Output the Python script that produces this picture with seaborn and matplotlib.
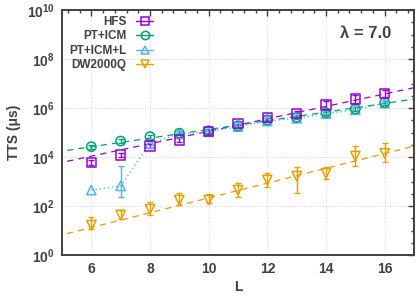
import numpy as np
import pandas as pd
import matplotlib
matplotlib.use("Agg")
import matplotlib.pyplot as plt
import seaborn as sns
from matplotlib.lines import Line2D
from matplotlib.ticker import FixedLocator, FixedFormatter, NullFormatter

# ---------------- data (log10 of TTS in microseconds) ----------------
L = [6, 7, 8, 9, 10, 11, 12, 13, 14, 15, 16]

hfs_log = [3.77, 4.08, 4.45, 4.69, 5.03, 5.37, 5.62, 5.78, 6.12, 6.37, 6.60]
hfs_err = [0.10, 0.10, 0.10, 0.08, 0.08, 0.08, 0.10, 0.10, 0.15, 0.15, 0.15]

pticm_log = [4.42, 4.65, 4.83, 4.97, 5.07, 5.27, 5.51, 5.62, 5.81, 5.96, 6.22]
pticm_err = [0.08, 0.08, 0.08, 0.08, 0.08, 0.08, 0.08, 0.08, 0.08, 0.08, 0.08]

pticml_log = [2.65, 2.82, 4.55, 4.95, 5.03, 5.24, 5.47, 5.58, 5.77, 5.93, 6.20]
pticml_lo = [2.65, 2.36, 4.55, 4.95, 5.03, 5.24, 5.47, 5.58, 5.77, 5.93, 6.20]
pticml_hi = [2.65, 3.62, 4.55, 4.95, 5.03, 5.24, 5.47, 5.58, 5.77, 5.93, 6.20]

dw_log = [1.22, 1.63, 1.87, 2.24, 2.24, 2.65, 3.06, 3.22, 3.33, 4.04, 4.15]
dw_lo = [1.05, 1.47, 1.63, 2.04, 2.11, 2.38, 2.76, 2.54, 3.09, 3.63, 3.81]
dw_hi = [1.54, 1.84, 2.18, 2.52, 2.49, 2.95, 3.36, 3.60, 3.58, 4.45, 4.56]

# exponential fits: log10(TTS) = intercept + slope * L
fit_names = ["HFS", "PT+ICM", "DW2000Q"]
fit_intercept = [3.78 - 0.254 * 5, 4.24 - 0.177 * 5, 0.82 - 0.302 * 5]
fit_slope = [0.254, 0.177, 0.302]

labels = ["HFS", "PT+ICM", "PT+ICM+L", "DW2000Q"]
colors = ["#9400D3", "#009E73", "#56B4E9", "#E69F00"]
markers = ["s", "o", "^", "v"]
lambda_text = "λ = 7.0"

# ---------------- style ----------------
sns.set_theme(style="white")
plt.rcParams["font.family"] = ["Liberation Sans", "DejaVu Sans"]
plt.rcParams["font.weight"] = "bold"
plt.rcParams["mathtext.fontset"] = "custom"
plt.rcParams["mathtext.rm"] = "Liberation Sans:bold"
plt.rcParams["mathtext.it"] = "Liberation Sans:bold"
plt.rcParams["mathtext.bf"] = "Liberation Sans:bold"
txt = "#404040"

fig = plt.figure(figsize=(4.16, 2.97), dpi=100)
ax = fig.add_axes([62 / 416, 1 - 255 / 297, (414 - 62) / 416, (255 - 10) / 297])

# fit lines
xfit = np.array([4.8, 17.2])
fit_colors = [colors[0], colors[1], colors[3]]
for name, a, b, c in zip(fit_names, fit_intercept, fit_slope, fit_colors):
    dfit = pd.DataFrame({"L": xfit, "TTS": 10 ** (a + b * xfit)})
    sns.lineplot(data=dfit, x="L", y="TTS", ax=ax, color=c, lw=0.9,
                 legend=False, zorder=2)
    ax.lines[-1].set_dashes((5, 4))

# dotted line for PT+ICM+L
dl = pd.DataFrame({"L": L, "TTS": 10 ** np.array(pticml_log)})
sns.lineplot(data=dl, x="L", y="TTS", ax=ax, color=colors[2], lw=1.0,
             legend=False, zorder=2)
ax.lines[-1].set_linestyle((0, (1, 2)))

def draw(logv, lo, hi, color, marker, ms):
    logv = np.array(logv); lo = np.array(lo); hi = np.array(hi)
    y = 10 ** logv
    m = (hi - lo) > 1e-6
    x = np.array(L)
    if m.any():
        ax.errorbar(x[m], y[m], yerr=[y[m] - 10 ** lo[m], 10 ** hi[m] - y[m]],
                    fmt="none", ecolor=color, elinewidth=1.0, capsize=2,
                    capthick=1.0, zorder=3)
    sns.scatterplot(x=L, y=y, ax=ax, marker=marker, s=ms,
                    facecolors="none", edgecolor=color, linewidth=1.1,
                    zorder=4, legend=False)

hl = np.array(hfs_log); he = np.array(hfs_err)
pl = np.array(pticm_log); pe = np.array(pticm_err)
draw(pticml_log, pticml_lo, pticml_hi, colors[2], "^", 45)
draw(dw_log, dw_lo, dw_hi, colors[3], "v", 45)
draw(pticm_log, pl - pe, pl + pe, colors[1], "o", 45)
draw(hfs_log, hl - he, hl + he, colors[0], "s", 45)

ax.set_yscale("log")
ax.set_xlim(5, 17)
ax.set_ylim(1, 1e10)

# ticks
ax.xaxis.set_major_locator(FixedLocator([6, 8, 10, 12, 14, 16]))
ax.xaxis.set_major_formatter(FixedFormatter(["6", "8", "10", "12", "14", "16"]))
ax.xaxis.set_minor_locator(FixedLocator(np.arange(5.2, 17, 0.4)))
ax.xaxis.set_minor_formatter(NullFormatter())
yt = [1, 1e2, 1e4, 1e6, 1e8, 1e10]
ax.yaxis.set_major_locator(FixedLocator(yt))
ax.yaxis.set_major_formatter(FixedFormatter([r"$10^{%d}$" % e for e in [0, 2, 4, 6, 8, 10]]))
ax.yaxis.set_minor_locator(FixedLocator(10 ** np.arange(0.5, 10, 0.5)))
ax.yaxis.set_minor_formatter(NullFormatter())
ax.tick_params(which="both", direction="in", top=True, right=True,
               colors=txt, labelsize=10, width=1.0)
ax.tick_params(which="major", length=4)
ax.tick_params(which="minor", length=2.5)
ax.tick_params(axis="x", pad=5)
ax.tick_params(axis="y", pad=5)
for lab in ax.get_xticklabels() + ax.get_yticklabels():
    lab.set_fontweight("bold")

ax.grid(False, which="minor")
ax.grid(True, which="major", color="#c8c8c8", lw=0.6, ls=(0, (1, 2)))
for s in ax.spines.values():
    s.set_color(txt)
    s.set_linewidth(1.4)

ax.set_xlabel("L", fontsize=10, fontweight="bold", color=txt, labelpad=3)
ax.set_ylabel("TTS (μs)", fontsize=10, fontweight="bold", color=txt, labelpad=4)

ax.text(0.935, 0.905, lambda_text, transform=ax.transAxes, ha="right",
        va="center", fontsize=12, fontweight="bold", color=txt)

handles = [Line2D([0], [0], color=c, marker=m, mfc="none", mec=c, ms=6,
                  mew=1.1, lw=1.0) for c, m in zip(colors, markers)]
leg = ax.legend(handles, labels, loc="upper left", bbox_to_anchor=(0.02, 0.975),
                markerfirst=False, frameon=False, borderpad=0, borderaxespad=0,
                handlelength=1.5, handletextpad=0.8, labelspacing=0.2,
                prop={"family": "Liberation Sans", "weight": "bold", "size": 8.5})
for t in leg.get_texts():
    t.set_color(txt)

fig.savefig("out.png", dpi=100)
